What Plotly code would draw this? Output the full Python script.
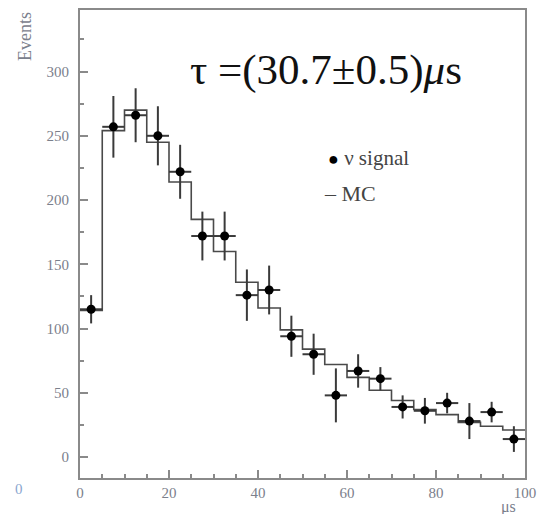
import plotly.graph_objects as go

# ---- data ----
bin_width = 5
bin_centers = [2.5, 7.5, 12.5, 17.5, 22.5, 27.5, 32.5, 37.5, 42.5, 47.5,
               52.5, 57.5, 62.5, 67.5, 72.5, 77.5, 82.5, 87.5, 92.5, 97.5]
signal_counts = [115, 257, 266, 250, 222, 172, 172, 126, 130, 94,
                 80, 48, 67, 61, 39, 36, 42, 28, 35, 14]
signal_errors = [11, 24, 21, 23, 21, 19, 19, 20, 19, 16,
                 16, 21, 13, 9, 9, 10, 8, 14, 8, 10]
mc_counts = [114, 254, 270, 245, 214, 185, 160, 136, 116, 99,
             84, 72, 62, 52, 44, 37, 33, 27, 24, 21]
x_ticks = [0, 20, 40, 60, 80, 100]
y_ticks = [0, 50, 100, 150, 200, 250, 300]

# step edges derived from bin centres
edges = [c - bin_width / 2 for c in bin_centers] + [bin_centers[-1] + bin_width / 2]
mc_step = mc_counts + [mc_counts[-1]]

SERIF = "Liberation Serif"
AXC = "#8a8a8a"
TICKC = "#7b808c"

fig = go.Figure()

fig.add_trace(go.Scatter(
    x=edges, y=mc_step, mode="lines", line_shape="hv",
    line=dict(color="#4a4a4a", width=1.6), name="MC", showlegend=False,
    hoverinfo="skip"))

fig.add_trace(go.Scatter(
    x=bin_centers, y=signal_counts, mode="markers",
    marker=dict(color="black", size=9),
    error_y=dict(type="data", array=signal_errors, color="#3a3a3a", thickness=2, width=0),
    error_x=dict(type="constant", value=bin_width / 2, color="#3a3a3a", thickness=2, width=0),
    name="ν signal", showlegend=False))

axis_common = dict(
    showline=True, linecolor=AXC, linewidth=2, mirror=True,
    ticks="inside", tickcolor=AXC, tickwidth=1.5, ticklen=8,
    showgrid=False, zeroline=False, automargin=False,
    tickfont=dict(family=SERIF, size=15, color=TICKC),
)

fig.update_xaxes(range=[0, 100], tickvals=x_ticks,
                 minor=dict(dtick=5, ticks="inside", ticklen=4, tickcolor=AXC, tickwidth=1.5),
                 ticklabelstandoff=0, **axis_common)
fig.update_yaxes(range=[-16.3, 347.9], tickvals=y_ticks,
                 minor=dict(dtick=25, ticks="inside", ticklen=4, tickcolor=AXC, tickwidth=1.5),
                 ticklabelstandoff=6, **axis_common)

annotations = [
    dict(text="τ =(30.7±0.5)<i>μ</i>s", x=188, y=70,
         font=dict(family=SERIF, size=43, color="#111111")),
    dict(text="Events", textangle=-90, x=25, y=37,
         font=dict(family=SERIF, size=18, color=TICKC)),
    dict(text="μs", x=508, y=507,
         font=dict(family=SERIF, size=16, color=TICKC)),
    dict(text="<span style='font-size:18px;color:#000000'>●</span>&nbsp;ν signal", x=326, y=158,
         font=dict(family=SERIF, size=21, color="#444444")),
    dict(text="–&nbsp;MC", x=322, y=194,
         font=dict(family=SERIF, size=22, color="#444444")),
    dict(text="0", x=19, y=489,
         font=dict(family=SERIF, size=15, color="#8aa6cf")),
]

W, H = 537, 514
L, R, T, B = 80, 12, 10, 36
ann_objs = []
for a in annotations:
    px, py = a.pop("x"), a.pop("y")
    xanchor = "left" if a["text"].startswith(("τ", "<span", "–")) else "center"
    ann_objs.append(dict(
        x=(px - L) / (W - L - R), y=1 - (py - T) / (H - T - B),
        xref="paper", yref="paper", xanchor=xanchor, yanchor="middle",
        showarrow=False, **a))

fig.update_layout(
    width=W, height=H,
    margin=dict(l=L, r=R, t=T, b=B),
    paper_bgcolor="white", plot_bgcolor="white",
    annotations=ann_objs,
)

fig.write_html("out.html", config={"displayModeBar": False},
               post_script="document.body.style.margin='0';")
